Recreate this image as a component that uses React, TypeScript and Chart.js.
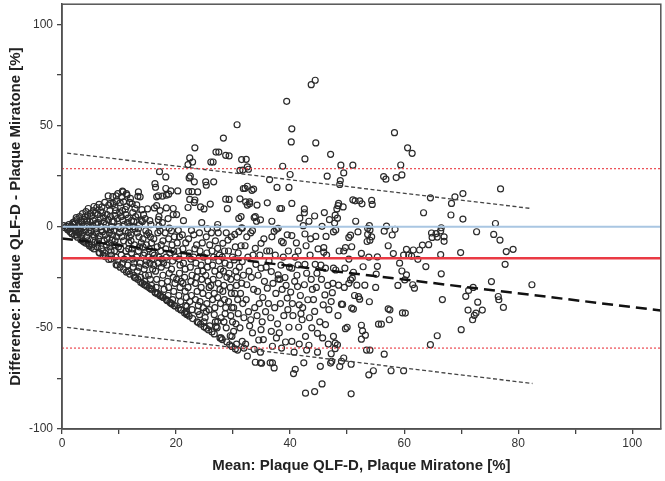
import React, { useEffect, useRef } from "react";
import { Chart, registerables } from "chart.js";

Chart.register(...registerables);

// Bland-Altman data: [mean %, difference %]
const points: [number, number][] = [
  [0.3,0.5],[0.5,-0.5],[0.8,0.2],[1.0,-1.5],[1.2,1.0],[1.4,-2.5],[1.6,0.3],[1.8,-3.5],[1.9,2.0],[1.5,-1.0],[0.9,-0.8],[1.7,-3.3],[2.0,1.2],
  [2.1,-0.5],[2.2,2.5],[2.3,1.7],[2.4,-2.0],[2.5,-4.0],[2.6,3.5],[2.7,-5.2],[2.8,0.5],[2.9,-3.0],[2.5,4.5],[2.2,-4.2],[2.8,-1.5],
  [3.0,1.2],[3.1,5.0],[3.2,-2.5],[3.3,-6.5],[3.4,3.0],[3.5,-4.5],[3.6,6.5],[3.7,-7.2],[3.8,0.0],[3.9,3.7],[3.2,-1.0],[3.5,2.0],[3.9,-7.6],[3.6,-3.0],
  [4.0,4.9],[4.1,-1.5],[4.2,7.5],[4.3,-5.0],[4.4,1.0],[4.5,-7.0],[4.6,9.0],[4.7,-3.0],[4.8,-9.4],[4.9,2.5],[4.2,-8.2],[4.5,5.5],[4.8,-0.5],[4.3,3.0],[4.7,-8.5],
  [5.0,6.6],[5.1,-2.0],[5.2,5.3],[5.3,-9.0],[5.4,0.5],[5.5,8.0],[5.6,-11.0],[5.7,-5.0],[5.8,6.6],[5.9,-1.0],[5.2,-10.2],[5.5,3.0],[5.8,-7.5],[5.4,-4.0],[5.6,10.0],[5.9,1.5],
  [6.0,-3.0],[6.1,9.5],[6.2,-10.0],[6.3,2.0],[6.4,-6.0],[6.5,11.0],[6.6,-13.0],[6.7,4.0],[6.8,7.9],[6.9,-1.5],[6.2,-8.0],[6.5,-12.8],[6.8,0.0],[6.3,6.0],[6.6,-4.5],[6.9,-11.0],[6.1,1.0],
  [7.0,9.8],[7.1,-2.5],[7.2,-12.0],[7.3,4.5],[7.4,-7.0],[7.5,12.0],[7.6,-14.8],[7.7,1.0],[7.8,-9.0],[7.9,6.0],[7.2,-14.2],[7.4,2.5],[7.6,-4.0],[7.8,-1.0],[7.1,7.0],[7.5,-13.0],[7.9,-6.0],
  [8.1,15.2],[8.2,10.7],[8.3,-3.0],[8.4,-10.0],[8.5,5.0],[8.6,-16.0],[8.7,0.0],[8.8,-6.5],[8.9,14.9],[8.2,-16.2],[8.4,8.0],[8.6,-12.0],[8.8,2.5],[8.3,-8.0],[8.5,-1.5],[8.7,-14.0],[8.9,-4.0],[8.1,3.5],[8.5,11.5],
  [9.0,11.5],[9.1,-2.0],[9.2,-9.0],[9.3,5.5],[9.4,-15.0],[9.5,15.2],[9.6,12.8],[9.7,-19.0],[9.8,16.4],[9.9,0.0],[9.2,-12.0],[9.4,8.0],[9.6,-5.0],[9.8,-17.0],[9.1,2.5],[9.3,-7.0],[9.5,-18.8],[9.7,4.0],[9.9,-10.0],[9.3,9.5],
  [10.2,11.8],[10.5,14.8],[10.6,17.6],[10.7,17.2],[10.8,12.3],[10.1,-3.0],[10.3,-11.0],[10.4,5.0],[10.6,-18.0],[10.8,-7.0],[10.9,1.0],[10.2,-20.0],[10.4,-14.0],[10.6,8.0],[10.8,-21.2],[10.3,-1.0],[10.5,-5.0],[10.7,3.0],[10.9,-16.0],[10.1,7.0],
  [11.3,16.4],[11.4,15.6],[11.6,4.2],[11.1,-2.0],[11.2,-12.0],[11.3,10.0],[11.5,-19.0],[11.7,-8.0],[11.8,0.0],[11.9,-23.4],[11.2,6.0],[11.4,-15.0],[11.6,-22.0],[11.8,-5.0],[11.1,8.5],[11.5,2.0],[11.7,-11.0],[11.9,12.0],[11.3,-22.4],[11.6,-3.0],
  [12.3,11.3],[12.6,2.6],[12.1,-4.0],[12.2,-13.0],[12.4,7.0],[12.5,-20.0],[12.7,-9.0],[12.8,-1.0],[12.9,-25.4],[12.2,3.0],[12.4,-16.0],[12.6,-24.0],[12.8,9.0],[12.1,-7.0],[12.5,0.0],[12.7,-25.0],[12.9,5.0],[12.3,-11.0],[12.6,-18.0],[12.0,14.0],
  [13.1,10.8],[13.3,5.9],[13.4,17.2],[13.3,15.0],[13.7,14.8],[14.0,8.4],[13.2,-3.0],[13.4,-12.0],[13.5,-20.0],[13.6,1.0],[13.8,-25.0],[13.9,-8.0],[13.1,-15.0],[13.3,-26.0],[13.5,-5.0],[13.7,-18.0],[13.9,3.0],[13.2,-22.0],[13.6,-10.0],[13.8,-27.4],[13.4,-1.0],
  [14.1,2.6],[14.2,-6.0],[14.3,-14.0],[14.4,-21.0],[14.5,-27.0],[14.6,4.0],[14.7,-2.0],[14.8,-17.0],[14.9,-29.4],[14.2,-10.0],[14.4,-28.6],[14.6,-24.0],[14.8,-9.0],[14.3,6.0],[14.5,-13.0],[14.7,-19.0],[14.9,-4.0],[14.1,-28.0],[14.6,-28.8],
  [15.0,8.8],[15.2,-3.0],[15.3,-11.0],[15.4,-18.0],[15.5,-26.0],[15.6,1.0],[15.7,-8.0],[15.8,-31.0],[15.9,-21.0],[15.1,-15.0],[15.3,-30.2],[15.5,-5.0],[15.7,-29.0],[15.9,-13.0],[15.2,-24.0],[15.4,3.0],[15.6,-30.8],[15.8,-16.0],
  [16.2,9.3],[16.6,10.4],[16.3,21.3],[16.6,14.8],[16.4,19.5],[16.9,15.3],[17.0,0.4],[16.9,3.5],[17.0,5.0],[16.1,-6.0],[16.2,-14.0],[16.4,-22.0],[16.5,-30.0],[16.7,-10.0],[16.8,-33.0],[16.9,-18.0],[16.3,-32.4],[16.6,-26.0],[16.8,-3.0],[16.4,-32.6],[16.7,-33.2],[16.1,-19.0],
  [17.1,27.2],[17.6,15.1],[17.2,-2.0],[17.3,-12.0],[17.4,-20.0],[17.5,-28.0],[17.7,-7.0],[17.8,-35.0],[17.3,-34.2],[17.5,-16.0],[17.7,-24.0],[17.9,-31.0],[17.2,-34.0],[17.6,2.0],[17.4,-9.0],[17.8,-18.0],[17.2,8.0],[17.6,-34.8],[17.0,-15.0],
  [18.2,24.6],[18.2,18.9],[18.3,15.6],[18.3,9.3],[18.8,-0.7],[18.7,16.1],[18.1,-3.0],[18.2,-11.0],[18.4,-19.0],[18.5,-27.0],[18.6,-34.0],[18.7,-6.0],[18.8,-23.0],[18.9,-37.4],[18.3,-15.0],[18.5,-36.6],[18.7,-30.0],[18.9,-13.0],[18.4,-36.4],[18.6,4.0],[18.3,-36.0],
  [19.1,17.7],[19.2,-2.0],[19.3,-9.0],[19.4,-17.0],[19.5,-25.0],[19.6,-32.0],[19.7,-39.0],[19.8,-39.2],[19.2,-21.0],[19.4,-36.0],[19.6,-12.0],[19.8,-28.0],[19.3,-38.2],[19.5,6.0],[19.7,-5.0],[19.9,-15.0],[19.1,-37.8],[19.5,9.0],
  [20.1,6.0],[20.3,17.7],[20.4,-1.8],[20.2,-8.0],[20.5,-16.0],[20.6,-23.0],[20.7,-30.0],[20.8,-37.0],[20.9,-41.2],[20.3,-12.0],[20.5,-34.0],[20.7,-19.0],[20.9,-27.0],[20.4,-40.4],[20.6,-5.0],[20.8,-41.0],[20.1,-26.0],
  [21.8,-41.9],[21.9,-39.4],[21.1,-4.0],[21.2,-11.0],[21.3,-18.0],[21.5,-25.0],[21.6,-32.0],[21.7,-39.0],[21.8,-43.0],[21.9,-43.4],[21.2,-28.0],[21.4,-14.0],[21.6,-21.0],[21.8,-35.0],[21.3,3.0],[21.7,-8.0],[21.5,-42.6],
  [22.1,30.7],[22.4,34.0],[22.5,25.0],[22.3,24.1],[22.2,17.3],[22.8,17.3],[22.4,13.5],[22.1,9.5],[22.7,-1.8],[22.9,32.0],[22.2,-6.0],[22.3,-13.0],[22.5,-20.0],[22.6,-27.0],[22.7,-34.0],[22.8,-41.0],[22.9,-45.4],[22.3,-44.2],[22.6,-16.0],[22.8,-24.0],[22.4,-37.0],[22.1,-30.0],
  [23.3,39.0],[23.2,22.2],[23.3,13.2],[23.8,17.2],[23.8,-41.9],[23.1,-4.0],[23.3,-11.0],[23.5,-18.0],[23.6,-25.0],[23.7,-32.0],[23.9,-39.0],[23.4,-28.0],[23.6,-9.0],[23.8,-22.0],[23.9,-47.4],[23.1,-15.0],[23.7,-47.0],[23.4,-36.0],[23.2,12.0],
  [24.3,9.8],[24.9,8.8],[24.1,-43.5],[24.1,-3.0],[24.2,-12.0],[24.4,-19.0],[24.5,-26.0],[24.7,-33.0],[24.8,-40.0],[24.9,-47.0],[24.3,-48.2],[24.6,-8.0],[24.8,-15.0],[24.4,-30.0],[24.7,-22.0],[24.2,-37.0],[24.9,-49.4],[24.5,2.0],
  [25.2,22.2],[25.3,20.5],[25.3,-41.9],[25.1,-45.0],[25.3,-5.0],[25.4,-13.0],[25.5,-20.0],[25.6,-27.0],[25.7,-34.0],[25.8,-41.0],[25.9,-49.0],[25.3,-50.2],[25.6,-17.0],[25.8,-30.0],[25.4,-38.0],[25.9,-9.0],[25.2,-24.0],[25.7,-51.0],[25.5,-1.0],
  [26.0,11.2],[26.1,32.0],[26.5,32.0],[26.6,22.2],[26.7,-43.5],[26.9,-47.0],[26.2,-3.0],[26.3,-12.0],[26.4,-19.0],[26.5,-26.0],[26.7,-33.0],[26.8,-40.0],[26.3,-52.0],[26.6,-15.0],[26.8,-22.0],[26.4,-36.0],[26.9,-7.0],[26.1,-29.0],[26.7,-53.0],
  [27.0,36.9],[27.5,36.9],[27.3,1.1],[27.2,-0.5],[27.3,-10.7],[27.0,-49.3],[27.3,-46.8],[27.4,-3.0],[27.5,-17.0],[27.6,-24.0],[27.7,-31.0],[27.8,-38.0],[27.9,-45.0],[27.2,-50.0],[27.6,-14.0],[27.8,-21.0],[27.4,-28.0],[27.9,-55.0],[27.3,-35.0],[27.7,-55.0],
  [28.3,43.8],[28.2,-8.2],[28.7,13.6],[28.7,35.3],[28.8,-3.0],[28.1,-15.0],[28.3,-22.0],[28.4,-29.0],[28.5,-36.0],[28.6,-43.0],[28.8,-50.0],[28.9,-57.0],[28.2,-32.0],[28.6,-18.0],[28.4,-47.0],[28.9,-25.0],[28.5,-12.0],[28.7,-40.0],[28.1,-55.8],
  [29.3,35.0],[29.3,13.5],[29.0,8.9],[29.1,-6.6],[29.7,-5.0],[29.5,-53.9],[29.8,-54.2],[29.2,-12.0],[29.4,-19.0],[29.6,-26.0],[29.7,-33.0],[29.8,-40.0],[29.9,-47.0],[29.3,-23.0],[29.5,-30.0],[29.9,-15.0],[29.6,-44.0],[29.2,-37.0],[29.4,-58.4],[29.8,-59.2],
  [30.7,50.4],[30.3,-3.8],[30.2,-16.4],[30.1,-51.7],[30.4,-10.0],[30.5,-22.0],[30.6,-29.0],[30.8,-36.0],[30.9,-43.0],[30.5,-48.0],[30.3,-33.0],[30.7,-25.0],[30.9,-13.0],[30.1,-40.0],[30.6,-58.0],[30.8,-61.0],[30.4,-60.4],
  [31.2,13.8],[31.0,4.1],[31.0,-2.5],[31.6,-0.8],[31.4,5.0],[31.5,-0.5],[31.4,-9.4],[31.6,-17.2],[31.5,-27.9],[31.6,-56.7],[31.2,27.9],[31.5,33.2],[31.7,28.0],[31.8,18.9],[31.1,-20.0],[31.3,-33.0],[31.7,-38.0],[31.9,-45.0],[31.2,-50.0],[31.8,-24.0],[31.9,-60.0],
  [32.3,33.3],[32.5,29.6],[32.1,19.0],[32.5,20.0],[32.7,28.4],[32.9,12.3],[32.9,11.3],[32.2,12.3],[32.5,10.7],[32.1,-9.4],[32.4,-28.7],[32.2,-58.0],[32.6,-15.0],[32.8,-22.0],[32.3,-36.0],[32.7,-42.0],[32.9,-49.0],[32.5,-64.0],[32.4,-5.0],
  [33.6,18.6],[33.3,18.0],[33.9,5.0],[33.7,4.5],[33.4,-1.9],[33.1,-3.0],[33.9,-10.7],[33.4,-52.5],[33.7,-60.6],[34.0,-18.6],[33.2,-25.0],[33.6,-31.0],[33.8,-40.0],[33.1,-46.0],[33.5,-14.0],[33.9,-67.0],
  [34.1,2.7],[34.2,10.7],[34.8,3.4],[34.9,-8.2],[34.9,-20.5],[34.3,-32.0],[34.9,-50.9],[34.8,-67.3],[34.4,-24.0],[34.6,-38.0],[34.2,-44.0],[34.7,-14.0],[34.5,-56.0],[34.8,-62.0],
  [35.3,-55.8],[35.0,-67.5],[35.5,-27.0],[35.2,-35.0],[35.7,-42.0],[35.4,-6.0],[35.8,-20.0],[35.1,-47.0],[35.9,-12.0],
  [36.0,11.8],[36.4,23.3],[36.8,2.7],[36.4,-12.0],[36.7,-22.2],[36.0,-30.4],[36.7,-51.7],[36.9,-59.1],[36.5,-67.3],[36.9,-67.3],[36.2,-38.0],[36.6,-45.0],[36.3,-17.0],[36.8,-5.0],
  [37.7,19.4],[37.6,-1.3],[37.2,-2.3],[37.9,-0.8],[37.9,-23.8],[37.9,-25.8],[37.2,-69.8],[37.5,-33.0],[37.3,-40.0],[37.8,-48.0],[37.4,-14.0],[37.6,-55.0],[37.0,-28.0],
  [38.2,9.0],[38.5,9.0],[38.5,-7.2],[38.8,-7.9],[38.1,-52.5],[38.7,29.9],[38.4,-19.0],[38.6,-31.0],[38.3,-38.0],[38.9,-44.0],[38.5,-60.0],[38.2,-26.0],[38.8,-15.0],
  [39.4,62.0],[39.8,19.4],[39.7,-12.0],[39.1,-25.1],[39.5,-35.3],[39.8,-49.7],[39.3,-29.0],[39.6,-41.0],[39.2,-57.0],[39.9,-20.0],[39.5,-4.0],
  [40.3,48.4],[40.2,41.9],[40.0,25.8],[40.3,11.5],[40.3,-4.4],[40.3,-20.5],[40.1,-32.3],[40.3,-56.7],[40.6,-72.6],[40.9,-70.5],[40.5,-44.0],[40.8,-27.0],[40.9,-15.0],[40.4,-38.0],[40.7,-62.0],
  [41.7,4.2],[41.4,-12.0],[41.4,-18.9],[41.3,-29.6],[41.6,-38.6],[41.5,-49.7],[41.2,-24.0],[41.8,-34.0],[41.9,-43.0],[41.1,-8.0],[41.6,-58.0],
  [42.6,33.5],[42.5,8.8],[42.5,6.9],[42.3,0.5],[42.6,-3.6],[42.8,-9.4],[42.6,-18.6],[42.5,-28.7],[42.7,-54.2],[42.7,-82.3],[42.4,-67.3],[42.2,-40.0],[42.9,-23.0],[42.1,-46.0],[42.9,-61.0],
  [43.3,2.7],[43.1,-36.1],[43.3,-58.6],[43.5,-14.0],[43.7,-26.0],[43.4,-45.0],[43.9,-31.0],[43.6,-6.0],[43.8,-50.0],
  [44.4,72.4],[43.7,70.2],[44.5,41.4],[44.3,5.3],[44.5,-4.8],[44.4,-18.6],[44.7,-23.0],[44.3,-41.9],[44.8,-52.7],[44.3,-81.5],[44.6,-30.0],[44.9,-11.0],[44.1,-36.0],[44.8,-62.0],
  [45.6,0.2],[45.9,-10.3],[45.9,-12.6],[45.8,-38.6],[45.6,-77.7],[45.3,-69.0],[45.5,-26.0],[45.2,-47.0],[45.7,-55.0],[45.4,-19.0],
  [46.0,7.0],[46.5,25.0],[46.3,-4.8],[46.2,-20.5],[46.1,-33.7],[46.2,-48.4],[46.9,3.5],[46.6,-29.0],[46.8,-41.0],[46.4,-14.0],[46.7,-58.0],
  [47.1,35.8],[47.8,1.8],[47.6,-2.6],[47.6,-20.5],[47.2,-37.0],[47.6,-54.2],[47.3,-66.5],[47.9,-57.5],[47.9,-60.3],[47.2,-62.8],[47.1,-67.4],[47.9,5.7],[47.4,-32.6],[47.5,-28.0],
  [48.2,8.8],[48.4,10.4],[48.9,30.4],[48.8,22.8],[48.7,20.9],[48.5,11.5],[48.3,4.2],[48.0,-1.6],[48.6,-12.0],[48.0,-21.4],[48.5,-28.9],[49.0,-38.3],[48.3,-58.4],[48.7,-69.1],[49.0,-66.5],[48.4,-44.0],
  [49.4,26.6],[49.3,9.8],[49.4,-12.0],[49.7,-10.3],[49.6,-20.5],[49.2,-38.4],[49.4,-64.9],[49.7,-50.4],[49.5,-30.0],
  [50.3,-5.3],[50.6,-4.2],[50.8,-9.9],[50.9,-25.4],[50.3,-28.0],[50.6,-26.3],[50.8,-40.2],[50.0,-49.7],[50.7,-68.0],[50.7,-82.6],[51.0,30.4],[50.3,-16.0],
  [51.4,12.8],[51.5,2.7],[51.0,13.3],[51.9,-2.6],[51.1,-22.5],[51.7,-28.9],[51.1,-40.7],[51.3,-34.0],
  [52.2,12.8],[52.6,11.3],[52.5,-13.2],[52.8,-19.8],[52.0,-34.6],[52.2,-35.8],[52.5,-48.7],[52.7,-51.5],[52.5,-55.6],
  [53.9,0.5],[53.6,-0.8],[53.6,-3.8],[53.5,-7.3],[54.0,-6.7],[53.1,-28.9],[53.9,-37.1],[53.2,-53.6],[53.4,-61.0],[54.0,-1.6],[53.8,-73.2],[53.8,-15.0],
  [54.3,13.0],[54.4,11.0],[54.3,-5.0],[54.0,-61.0],[54.6,-71.2],[55.3,-14.9],[55.3,-19.6],[55.1,-23.4],[55.5,-48.2],[55.0,-30.0],
  [56.4,24.8],[56.8,23.5],[56.9,0.3],[56.5,-2.2],[57.9,-4.1],[57.2,-9.4],[57.2,-40.6],[57.5,-41.1],[56.0,-48.2],[57.4,-46.0],[56.5,-63.0],[57.7,-71.2],
  [58.3,46.5],[58.6,24.3],[59.6,25.6],[59.4,30.5],[58.4,-1.3],[58.1,-13.3],[59.9,-14.0],[59.2,-18.0],[59.6,-21.9],[60.1,-26.3],[58.9,-29.0],[59.7,-42.6],[59.9,-71.2],
  [60.6,39.0],[61.4,36.3],[60.4,-11.2],[61.6,-11.5],[60.8,-14.0],[61.3,-14.5],[60.4,-23.8],[61.8,-30.4],[61.5,-28.7],[60.2,-42.7],
  [62.7,-11.5],[63.8,-19.7],[62.4,-16.1],[63.4,6.9],[63.2,-9.1],[64.3,-8.9],[64.9,-5.3],[65.8,-5.1],[64.8,-3.1],[65.6,-3.4],[64.6,-58.3],[65.8,-53.9],[64.6,14.3],
  [66.4,-2.1],[66.5,-0.5],[67.0,-5.0],[67.0,-7.2],[66.4,-13.8],[66.5,-23.3],[66.7,-36.0],[68.2,5.8],[68.9,14.8],[68.3,11.5],[69.9,-12.8],
  [70.3,16.4],[70.3,3.8],[70.8,-34.4],[71.3,-31.5],[72.1,-30.0],[72.9,-37.3],[71.2,-41.2],[73.7,-41.2],[72.6,-42.7],[72.3,-43.8],[72.0,-46.0],[70.0,-50.9],[72.7,-2.5],
  [76.9,18.7],[76.0,1.6],[75.7,-3.8],[76.8,-6.6],[77.9,-12.3],[79.1,-11.2],[77.7,-18.6],[75.3,-27.1],[82.4,-28.7],[76.5,-34.5],[76.6,-36.1],[77.4,-39.9]
];

// Reference lines
const meanBias = -15.6;
const upperLimit = 28.7;
const lowerLimit = -60.0;
const lineSpan = [0, 105];
const regressionLine: [number, number][] = [[0, -5.8], [105, -41.4]];
const upperRegressionLimit: [number, number][] = [[0.9, 36.4], [82.3, 9.0]];
const lowerRegressionLimit: [number, number][] = [[0.9, -49.8], [82.5, -77.5]];

const yTicksLabeled = [-100, -50, 0, 50, 100];
const xTicksLabeled = [0, 20, 40, 60, 80, 100];

const toXY = (arr: [number, number][]) => arr.map(([x, y]) => ({ x, y }));
const hLine = (v: number) => lineSpan.map((x) => ({ x, y: v }));

const framePlugin = {
  id: "frame",
  afterDraw(chart: any) {
    const { ctx, chartArea } = chart;
    ctx.save();
    ctx.strokeStyle = "#555";
    ctx.lineWidth = 1.5;
    ctx.strokeRect(chartArea.left, chartArea.top, chartArea.right - chartArea.left, chartArea.bottom - chartArea.top);
    ctx.restore();
  },
};

export default function App() {
  const ref = useRef<HTMLCanvasElement | null>(null);
  useEffect(() => {
    if (!ref.current) return;
    const lineBase = { type: "line" as const, showLine: true, pointRadius: 0, fill: false, order: 0 };
    const chart = new Chart(ref.current, {
      type: "scatter",
      data: {
        datasets: [
          { ...lineBase, data: hLine(0), borderColor: "#a9c6e2", borderWidth: 2 },
          { ...lineBase, data: hLine(meanBias), borderColor: "#ea3a44", borderWidth: 2.5 },
          { ...lineBase, data: hLine(upperLimit), borderColor: "#ec4850", borderWidth: 1.2, borderDash: [2, 2] },
          { ...lineBase, data: hLine(lowerLimit), borderColor: "#ec4850", borderWidth: 1.2, borderDash: [2, 2] },
          { ...lineBase, data: toXY(regressionLine), borderColor: "#111", borderWidth: 2.5, borderDash: [11, 6] },
          { ...lineBase, data: toXY(upperRegressionLimit), borderColor: "#444", borderWidth: 1.3, borderDash: [4, 2.5] },
          { ...lineBase, data: toXY(lowerRegressionLimit), borderColor: "#444", borderWidth: 1.3, borderDash: [4, 2.5] },
          {
            type: "scatter",
            data: toXY(points),
            order: 1,
            pointRadius: 3,
            pointHoverRadius: 3,
            borderWidth: 1.2,
            borderColor: "#2b2b2b",
            backgroundColor: "rgba(0,0,0,0)",
          } as any,
        ] as any,
      },
      options: {
        animation: false,
        responsive: true,
        maintainAspectRatio: false,
        layout: { padding: { top: 2, right: 1, bottom: 0, left: 0 } },
        plugins: { legend: { display: false }, tooltip: { enabled: false } },
        scales: {
          x: {
            type: "linear",
            min: 0,
            max: 105,
            afterFit: (s: any) => { s.height = 52; s.paddingLeft = 0; s.paddingRight = 0; },
            ticks: {
              stepSize: 10,
              includeBounds: false,
              autoSkip: false,
              maxRotation: 0,
              padding: 2,
              color: "#333",
              font: { family: "'Liberation Sans', Arial, sans-serif", size: 12 },
              callback: (v: any) => (xTicksLabeled.includes(Number(v)) ? String(v) : ""),
            },
            grid: { display: true, drawOnChartArea: false, drawTicks: true, tickLength: 5, color: "#444", lineWidth: 1.3 },
            border: { display: true, color: "#444", width: 1.5 },
            title: {
              display: true,
              text: "Mean: Plaque QLF-D, Plaque Miratone [%]",
              color: "#222",
              font: { family: "'Liberation Sans', Arial, sans-serif", size: 15, weight: "bold" },
              padding: { top: 4, bottom: 6 },
            },
          },
          y: {
            type: "linear",
            min: -100,
            max: 110,
            afterFit: (s: any) => { s.width = 62; s.paddingTop = 0; s.paddingBottom = 0; },
            ticks: {
              stepSize: 25,
              includeBounds: false,
              autoSkip: false,
              padding: 4,
              color: "#333",
              font: { family: "'Liberation Sans', Arial, sans-serif", size: 12 },
              callback: (v: any) => (yTicksLabeled.includes(Number(v)) ? String(v) : ""),
            },
            grid: { display: true, drawOnChartArea: false, drawTicks: true, tickLength: 5, color: "#444", lineWidth: 1.3 },
            border: { display: true, color: "#444", width: 1.5 },
            title: {
              display: true,
              text: "Difference: Plaque QLF-D - Plaque Miratone [%]",
              color: "#222",
              font: { family: "'Liberation Sans', Arial, sans-serif", size: 15, weight: "bold" },
              padding: { top: 7, bottom: 4 },
            },
          },
        },
      } as any,
      plugins: [framePlugin],
    });
    return () => chart.destroy();
  }, []);

  return (
    <div style={{ position: "fixed", left: 0, top: 0, width: 665, height: 481, background: "#fff" }}>
      <canvas ref={ref} />
    </div>
  );
}
